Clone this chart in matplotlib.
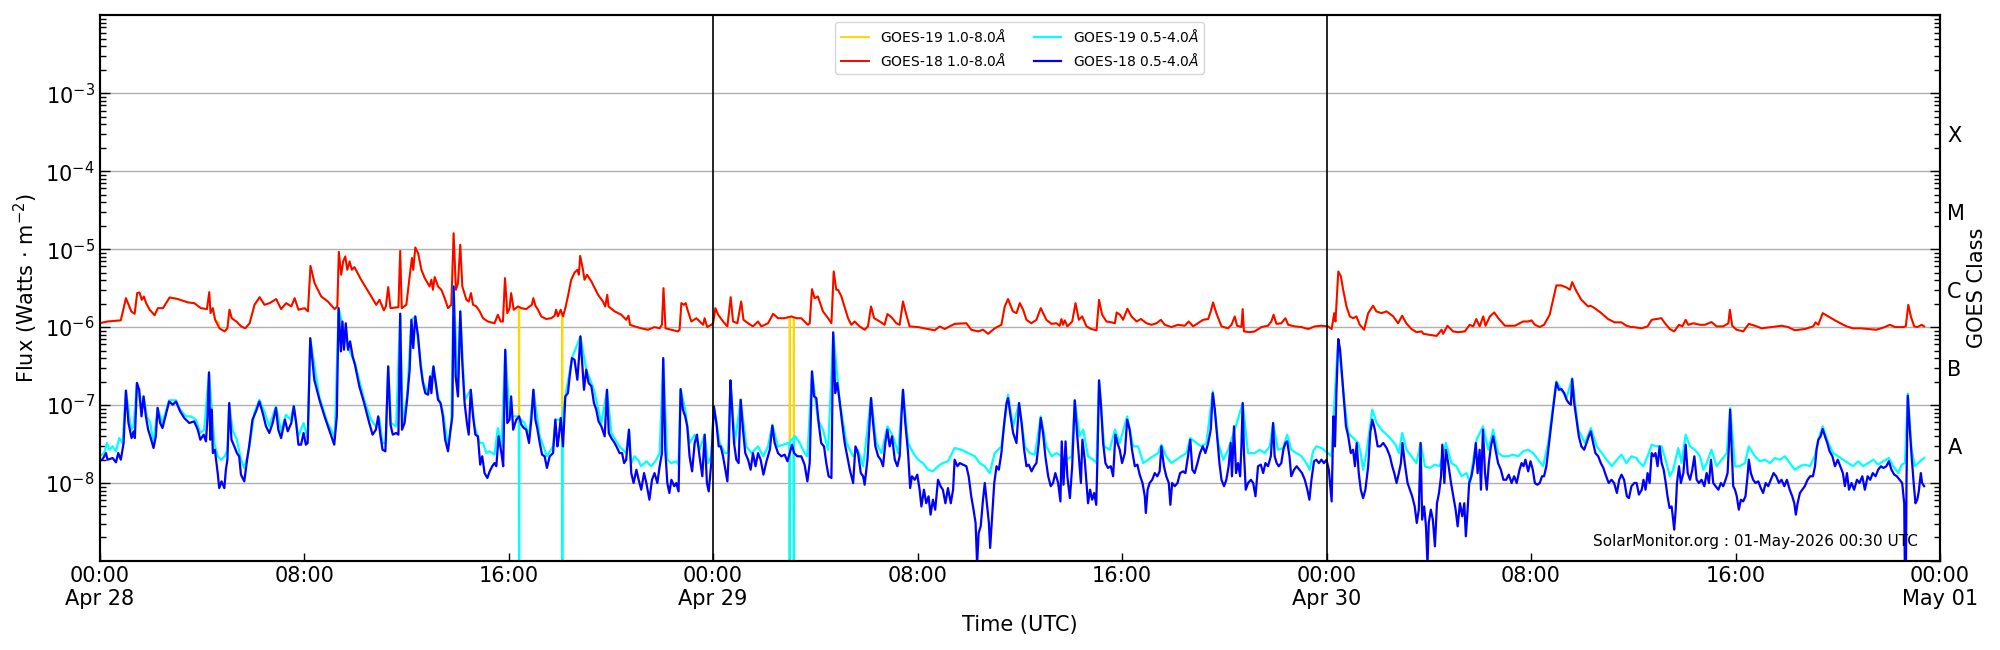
#!/usr/bin/env python3

# GOES x-ray flux for three days, SolarMonitor style

import pandas as pd
import matplotlib
matplotlib.use("Agg")
import matplotlib.pyplot as plt
import matplotlib.dates as mdates
import matplotlib.ticker as mticker

start = pd.Timestamp("2026-04-28 00:00")
span_hours = 72
day_lines = [24, 48]

# (hours since Apr 28 00:00 UTC, flux in W m^-2)
g18_long = [
	(0.0,1.12e-6),(0.31,1.18e-6),(0.83,1.22e-6),(1.03,2.35e-6),(1.24,1.59e-6),(1.37,1.48e-6),(1.47,2.73e-6),
	(1.56,2.78e-6),(1.65,2.24e-6),(1.73,2.47e-6),(1.82,2.03e-6),(1.96,1.67e-6),(2.15,1.42e-6),(2.28,1.75e-6),
	(2.48,1.75e-6),(2.74,2.40e-6),(3.06,2.29e-6),(3.46,2.07e-6),(3.70,2.03e-6),(3.96,1.75e-6),(4.20,1.70e-6),
	(4.29,2.81e-6),(4.34,1.51e-6),(4.43,1.75e-6),(4.52,1.24e-6),(4.69,9.65e-7),(4.89,8.8e-7),(5.00,9.65e-7),
	(5.08,1.67e-6),(5.17,1.30e-6),(5.35,1.18e-6),(5.54,1.02e-6),(5.70,9.65e-7),(5.87,1.12e-6),(6.06,1.93e-6),
	(6.26,2.42e-6),(6.45,1.93e-6),(6.65,2.03e-6),(6.91,2.29e-6),(7.10,1.70e-6),(7.30,2.03e-6),(7.50,1.84e-6),
	(7.63,2.35e-6),(7.78,1.67e-6),(8.02,1.75e-6),(8.15,1.59e-6),(8.25,6.1e-6),(8.41,3.66e-6),(8.67,2.47e-6),
	(8.93,2.13e-6),(9.19,1.70e-6),(9.30,1.84e-6),(9.36,9.25e-6),(9.45,4.69e-6),(9.53,6.95e-6),(9.61,8.06e-6),
	(9.69,5.43e-6),(9.78,6.95e-6),(9.87,5.43e-6),(9.97,5.88e-6),(10.23,4.05e-6),(10.63,2.47e-6),(10.82,1.93e-6),
	(10.95,2.24e-6),(11.12,1.64e-6),(11.20,1.84e-6),(11.29,3.26e-6),(11.38,1.75e-6),(11.69,1.80e-6),(11.76,9.5e-6),
	(11.82,1.75e-6),(12.00,1.93e-6),(12.13,4.47e-6),(12.22,7.7e-6),(12.27,5.43e-6),(12.35,1.05e-5),(12.46,8.9e-6),
	(12.59,5.43e-6),(12.72,4.25e-6),(12.91,3.32e-6),(12.98,4.05e-6),(13.04,3.01e-6),(13.11,4.38e-6),(13.24,3.32e-6),
	(13.37,3.01e-6),(13.50,2.35e-6),(13.63,1.75e-6),(13.76,1.93e-6),(13.85,1.60e-5),(13.94,3.01e-6),(14.02,3.66e-6),
	(14.11,1.14e-5),(14.19,3.32e-6),(14.35,2.24e-6),(14.44,2.13e-6),(14.53,2.73e-6),(14.61,1.93e-6),(14.74,1.84e-6),
	(14.87,1.59e-6),(15.00,1.30e-6),(15.19,1.18e-6),(15.45,1.12e-6),(15.58,1.44e-6),(15.69,1.18e-6),(15.78,1.18e-6),
	(15.86,4.25e-6),(15.95,1.51e-6),(16.04,1.75e-6),(16.10,2.73e-6),(16.20,1.67e-6),(16.37,1.84e-6),(16.50,1.75e-6),
	(16.69,1.70e-6),(16.82,1.84e-6),(16.91,1.93e-6),(16.97,2.35e-6),(17.05,1.88e-6),(17.15,1.67e-6),(17.28,1.37e-6),
	(17.47,1.27e-6),(17.67,1.30e-6),(17.80,1.40e-6),(17.86,1.67e-6),(17.93,1.37e-6),(18.04,1.67e-6),(18.13,1.37e-6),
	(18.22,1.75e-6),(18.32,2.47e-6),(18.45,4.05e-6),(18.58,5.0e-6),(18.69,5.43e-6),(18.75,4.69e-6),(18.80,8.2e-6),
	(18.91,5.43e-6),(18.97,4.05e-6),(19.07,4.69e-6),(19.24,3.85e-6),(19.50,2.6e-6),(19.69,2.13e-6),(19.78,1.84e-6),
	(19.86,2.6e-6),(19.91,1.84e-6),(20.15,1.59e-6),(20.41,1.44e-6),(20.60,1.24e-6),(20.69,1.40e-6),(20.75,1.07e-6),
	(20.93,1.02e-6),(21.19,9.65e-7),(21.45,9.25e-7),(21.71,1.0e-6),(21.91,9.65e-7),(22.00,1.07e-6),(22.06,3.16e-6),
	(22.14,9.65e-7),(22.36,9.25e-7),(22.62,8.8e-7),(22.69,9.25e-7),(22.76,2.03e-6),(22.86,1.93e-6),(22.93,2.03e-6),
	(23.00,1.67e-6),(23.15,1.18e-6),(23.35,1.30e-6),(23.48,1.18e-6),(23.61,1.07e-6),(23.67,1.30e-6),(23.77,1.0e-6),
	(23.93,1.07e-6),(24.00,1.12e-6),(24.09,1.75e-6),(24.20,1.44e-6),(24.39,1.18e-6),(24.56,1.02e-6),(24.69,2.42e-6),
	(24.78,1.18e-6),(24.95,1.12e-6),(25.10,2.13e-6),(25.19,1.24e-6),(25.37,1.12e-6),(25.56,1.02e-6),(25.76,1.18e-6),
	(25.89,1.02e-6),(26.15,1.12e-6),(26.35,1.48e-6),(26.54,1.30e-6),(26.80,1.30e-6),(27.06,1.37e-6),(27.26,1.30e-6),
	(27.45,1.30e-6),(27.71,1.07e-6),(27.78,1.12e-6),(27.87,3.07e-6),(27.97,2.35e-6),(28.10,2.47e-6),(28.30,1.59e-6),
	(28.50,1.30e-6),(28.63,1.12e-6),(28.72,5.17e-6),(28.82,3.01e-6),(28.89,3.01e-6),(29.02,2.47e-6),(29.28,1.30e-6),
	(29.41,1.07e-6),(29.54,1.18e-6),(29.73,1.02e-6),(29.93,9.25e-7),(30.06,1.02e-6),(30.18,1.84e-6),(30.30,1.30e-6),
	(30.52,1.18e-6),(30.71,1.07e-6),(30.82,1.47e-6),(30.98,1.34e-6),(31.17,1.12e-6),(31.30,1.07e-6),(31.43,2.13e-6),
	(31.56,1.44e-6),(31.69,1.02e-6),(32.02,1.0e-6),(32.41,9.45e-7),(32.67,9.1e-7),(32.87,1.02e-6),(33.06,9.45e-7),
	(33.45,1.10e-6),(33.91,1.12e-6),(34.10,9.25e-7),(34.37,8.8e-7),(34.56,9.25e-7),(34.76,8.2e-7),(35.02,9.65e-7),
	(35.28,1.07e-6),(35.41,1.84e-6),(35.54,2.29e-6),(35.73,1.59e-6),(35.87,1.51e-6),(36.00,2.03e-6),(36.13,1.67e-6),
	(36.26,1.24e-6),(36.45,1.12e-6),(36.65,1.24e-6),(36.82,1.75e-6),(37.04,1.24e-6),(37.24,1.10e-6),(37.43,1.12e-6),
	(37.56,1.04e-6),(37.63,1.27e-6),(37.69,1.07e-6),(37.76,1.22e-6),(37.86,1.02e-6),(38.05,1.18e-6),(38.18,2.03e-6),
	(38.31,1.24e-6),(38.44,1.37e-6),(38.61,1.02e-6),(38.80,9.45e-7),(39.00,9.1e-7),(39.10,2.24e-6),(39.22,1.44e-6),
	(39.39,1.18e-6),(39.59,1.15e-6),(39.72,1.12e-6),(39.79,1.54e-6),(39.92,1.44e-6),(40.04,1.24e-6),(40.21,1.72e-6),
	(40.37,1.37e-6),(40.57,1.18e-6),(40.74,1.27e-6),(40.96,1.12e-6),(41.15,1.07e-6),(41.35,1.12e-6),(41.52,1.24e-6),
	(41.67,1.07e-6),(41.93,1.0e-6),(42.19,1.07e-6),(42.45,1.04e-6),(42.61,1.18e-6),(42.78,1.02e-6),(42.97,1.12e-6),
	(43.17,1.24e-6),(43.37,1.27e-6),(43.47,1.59e-6),(43.56,2.07e-6),(43.69,1.51e-6),(43.89,1.02e-6),(44.15,9.65e-7),
	(44.28,1.07e-6),(44.41,1.37e-6),(44.50,1.04e-6),(44.67,1.0e-6),(44.72,1.70e-6),(44.77,8.8e-7),(44.99,8.6e-7),
	(45.19,8.8e-7),(45.45,1.0e-6),(45.71,1.04e-6),(45.84,1.18e-6),(45.93,1.44e-6),(46.04,1.10e-6),(46.23,1.12e-6),
	(46.39,1.30e-6),(46.50,1.07e-6),(46.76,1.02e-6),(47.02,1.0e-6),(47.28,9.45e-7),(47.54,1.02e-6),(47.80,1.04e-6),
	(48.06,1.02e-6),(48.20,9.45e-7),(48.30,1.51e-6),(48.35,1.18e-6),(48.46,5.17e-6),(48.56,4.47e-6),(48.65,3.01e-6),
	(48.78,1.84e-6),(48.91,1.37e-6),(49.04,1.30e-6),(49.17,1.37e-6),(49.30,1.07e-6),(49.47,9.25e-7),(49.63,1.51e-6),
	(49.82,1.88e-6),(49.95,1.59e-6),(50.15,1.51e-6),(50.35,1.59e-6),(50.61,1.37e-6),(50.80,1.12e-6),(50.96,1.40e-6),
	(51.12,1.12e-6),(51.32,9.45e-7),(51.52,8.6e-7),(51.72,8.8e-7),(51.79,8.2e-7),(51.98,8.0e-7),(52.31,7.7e-7),
	(52.50,9.25e-7),(52.56,8.2e-7),(52.73,1.04e-6),(52.95,8.8e-7),(53.15,8.6e-7),(53.41,8.8e-7),(53.60,1.07e-6),
	(53.74,1.02e-6),(53.86,1.27e-6),(53.99,1.02e-6),(54.13,1.37e-6),(54.22,1.04e-6),(54.39,1.37e-6),(54.56,1.54e-6),
	(54.72,1.30e-6),(54.98,1.04e-6),(55.37,1.04e-6),(55.69,1.18e-6),(55.89,1.18e-6),(56.02,1.22e-6),(56.15,1.07e-6),
	(56.34,1.0e-6),(56.51,1.07e-6),(56.73,1.44e-6),(56.89,2.47e-6),(56.99,3.42e-6),(57.19,3.42e-6),(57.39,3.22e-6),
	(57.52,3.01e-6),(57.61,3.77e-6),(57.78,2.87e-6),(57.97,2.24e-6),(58.23,1.84e-6),(58.33,1.88e-6),(58.49,1.75e-6),
	(58.75,1.51e-6),(59.01,1.27e-6),(59.27,1.15e-6),(59.54,1.15e-6),(59.73,1.04e-6),(59.92,1.0e-6),(60.00,1.0e-6),
	(60.33,9.65e-7),(60.56,1.02e-6),(60.72,1.24e-6),(60.91,1.27e-6),(61.10,1.30e-6),(61.24,1.12e-6),(61.43,9.45e-7),
	(61.60,8.8e-7),(61.79,1.07e-6),(61.92,1.02e-6),(62.05,1.24e-6),(62.15,1.07e-6),(62.35,1.12e-6),(62.61,1.07e-6),
	(62.80,1.07e-6),(63.06,1.16e-6),(63.26,1.02e-6),(63.52,1.02e-6),(63.72,1.12e-6),(63.78,1.67e-6),(63.87,1.04e-6),
	(64.04,9.25e-7),(64.30,8.8e-7),(64.52,1.10e-6),(64.76,1.04e-6),(65.02,9.65e-7),(65.41,1.0e-6),(65.80,1.04e-6),
	(66.06,1.0e-6),(66.32,9.1e-7),(66.71,9.45e-7),(67.04,1.02e-6),(67.13,1.15e-6),(67.24,1.07e-6),(67.41,1.51e-6),
	(67.63,1.37e-6),(67.89,1.22e-6),(68.15,1.10e-6),(68.34,1.02e-6),(68.60,9.65e-7),(68.93,9.65e-7),(69.19,9.45e-7),
	(69.51,9.25e-7),(69.84,1.0e-6),(70.04,1.07e-6),(70.24,1.0e-6),(70.56,1.0e-6),(70.66,1.02e-6),(70.76,1.93e-6),
	(70.86,1.37e-6),(70.99,1.02e-6),(71.12,1.0e-6),(71.28,1.07e-6),(71.38,1.02e-6),
]

# GOES-19 long channel sits under GOES-18; only these points differ (dropouts)
g19_long_extra = [
	(4.66,1.15e-6),
	(16.40,1.80e-6),(16.41,1e-10),(16.42,1.80e-6),
	(18.09,1.40e-6),(18.10,1e-10),(18.11,1.40e-6),
	(26.99,1.35e-6),(27.00,1e-10),(27.01,1.35e-6),
	(27.15,1.33e-6),(27.16,1e-10),(27.17,1.33e-6),
]

g18_short = [
	(0.0,1.90e-8),(0.12,2.03e-8),(0.25,2.42e-8),(0.31,1.99e-8),(0.51,2.09e-8),(0.64,1.84e-8),(0.73,2.42e-8),
	(0.83,1.99e-8),(0.94,3.26e-8),(1.03,1.53e-7),(1.13,5.88e-8),(1.25,3.77e-8),(1.33,4.60e-8),(1.38,3.77e-8),
	(1.46,1.92e-7),(1.55,1.57e-7),(1.64,7.16e-8),(1.72,1.29e-7),(1.81,7.16e-8),(1.90,4.83e-8),(2.00,3.77e-8),
	(2.11,2.81e-8),(2.20,3.97e-8),(2.27,9.17e-8),(2.37,5.88e-8),(2.46,5.07e-8),(2.59,7.52e-8),(2.72,1.11e-7),
	(2.86,1.01e-7),(2.99,1.11e-7),(3.15,8.31e-8),(3.31,6.82e-8),(3.51,5.88e-8),(3.70,6.18e-8),(3.84,4.83e-8),
	(3.94,3.59e-8),(4.07,4.17e-8),(4.16,3.42e-8),(4.22,6.82e-8),(4.28,2.62e-7),(4.33,3.59e-8),(4.38,8.73e-8),
	(4.43,2.42e-8),(4.51,2.67e-8),(4.62,1.34e-8),(4.68,8.6e-9),(4.77,1.05e-8),(4.88,8.6e-9),(4.94,1.48e-8),
	(5.00,1.99e-8),(5.07,1.06e-7),(5.16,3.59e-8),(5.27,2.95e-8),(5.37,2.42e-8),(5.46,2.20e-8),(5.53,1.28e-8),
	(5.66,1.05e-8),(5.77,1.99e-8),(5.85,2.95e-8),(5.98,6.49e-8),(6.12,8.31e-8),(6.25,1.11e-7),(6.38,7.91e-8),
	(6.51,5.33e-8),(6.64,4.38e-8),(6.77,5.88e-8),(6.90,9.17e-8),(6.99,4.83e-8),(7.10,3.77e-8),(7.25,6.49e-8),
	(7.36,4.60e-8),(7.50,5.88e-8),(7.60,9.63e-8),(7.69,5.88e-8),(7.78,3.10e-8),(7.88,3.10e-8),(7.98,4.38e-8),
	(8.07,3.10e-8),(8.14,3.26e-8),(8.24,7.2e-7),(8.40,2.11e-7),(8.60,1.17e-7),(8.80,7.16e-8),(8.98,4.83e-8),
	(9.12,3.59e-8),(9.18,3.10e-8),(9.28,7.16e-8),(9.35,1.75e-6),(9.44,4.88e-7),(9.50,1.18e-6),(9.56,5.12e-7),
	(9.63,1.12e-6),(9.72,5.12e-7),(9.80,6.55e-7),(9.90,4.21e-7),(9.99,3.29e-7),(10.16,1.74e-7),(10.35,1.06e-7),
	(10.55,5.88e-8),(10.68,4.17e-8),(10.81,4.83e-8),(10.90,7.16e-8),(10.98,4.17e-8),(11.07,2.67e-8),(11.18,2.55e-8),
	(11.29,3.13e-7),(11.38,5.60e-8),(11.47,4.17e-8),(11.60,4.38e-8),(11.69,4.17e-8),(11.76,1.48e-6),(11.83,4.83e-8),
	(11.93,5.88e-8),(12.03,1.17e-7),(12.13,2.84e-7),(12.20,1.24e-6),(12.27,5.38e-7),(12.35,1.37e-6),(12.46,7.6e-7),
	(12.56,3.13e-7),(12.65,1.92e-7),(12.74,1.42e-7),(12.85,1.36e-7),(12.93,2.33e-7),(12.98,1.42e-7),(13.06,3.13e-7),
	(13.15,1.92e-7),(13.24,1.17e-7),(13.34,1.06e-7),(13.43,7.16e-8),(13.52,3.59e-8),(13.63,2.55e-8),(13.73,4.83e-8),
	(13.80,7.16e-8),(13.85,3.32e-6),(13.93,2.33e-7),(14.02,1.29e-7),(14.11,1.59e-6),(14.19,3.45e-7),(14.28,1.06e-7),
	(14.37,5.88e-8),(14.44,4.17e-8),(14.52,1.57e-7),(14.61,7.16e-8),(14.70,4.17e-8),(14.80,3.97e-8),(14.89,1.72e-8),
	(14.97,2.20e-8),(15.06,1.34e-8),(15.17,1.16e-8),(15.26,1.41e-8),(15.36,1.64e-8),(15.45,1.80e-8),(15.52,1.64e-8),
	(15.61,3.97e-8),(15.72,2.42e-8),(15.79,1.64e-8),(15.87,5.12e-7),(15.95,5.88e-8),(16.04,6.49e-8),(16.10,1.29e-7),
	(16.18,4.83e-8),(16.30,6.49e-8),(16.41,7.16e-8),(16.50,5.60e-8),(16.60,5.07e-8),(16.69,4.83e-8),(16.80,3.26e-8),
	(16.89,6.49e-8),(16.97,1.57e-7),(17.05,6.49e-8),(17.12,5.07e-8),(17.22,3.26e-8),(17.31,2.31e-8),(17.41,2.20e-8),
	(17.50,1.56e-8),(17.61,2.20e-8),(17.74,2.42e-8),(17.83,6.49e-8),(17.91,2.95e-8),(17.96,3.77e-8),(18.04,6.82e-8),
	(18.13,2.95e-8),(18.22,1.29e-7),(18.32,1.42e-7),(18.39,2.33e-7),(18.48,4.0e-7),(18.58,3.81e-7),(18.69,2.11e-7),
	(18.75,3.81e-7),(18.81,7.6e-7),(18.88,3.45e-7),(18.95,1.57e-7),(19.04,2.84e-7),(19.13,1.92e-7),(19.24,1.74e-7),
	(19.34,1.06e-7),(19.43,8.73e-8),(19.52,6.18e-8),(19.63,5.33e-8),(19.76,3.97e-8),(19.85,1.57e-7),(19.92,4.38e-8),
	(20.02,3.77e-8),(20.15,3.26e-8),(20.25,2.81e-8),(20.34,2.42e-8),(20.44,2.42e-8),(20.52,1.80e-8),(20.60,1.99e-8),
	(20.71,4.83e-8),(20.80,1.34e-8),(20.89,1.0e-8),(21.00,1.48e-8),(21.09,1.10e-8),(21.19,8.2e-9),(21.30,1.34e-8),
	(21.39,1.0e-8),(21.51,6.1e-9),(21.61,1.10e-8),(21.71,1.34e-8),(21.82,1.0e-8),(21.91,1.64e-8),(22.00,2.42e-8),
	(22.05,4.0e-7),(22.13,2.67e-8),(22.21,1.0e-8),(22.29,7.45e-9),(22.37,1.10e-8),(22.48,9.1e-9),(22.56,1.0e-8),
	(22.65,7.8e-9),(22.73,1.60e-7),(22.82,8.73e-8),(22.91,7.16e-8),(22.99,5.33e-8),(23.08,2.20e-8),(23.18,1.41e-8),
	(23.28,3.26e-8),(23.37,4.17e-8),(23.47,2.20e-8),(23.58,1.22e-8),(23.67,4.17e-8),(23.76,1.0e-8),(23.83,7.8e-9),
	(23.93,1.80e-8),(24.03,9.63e-8),(24.13,5.88e-8),(24.22,2.95e-8),(24.30,2.95e-8),(24.39,2.20e-8),(24.48,1.48e-8),
	(24.56,1.05e-8),(24.61,2.20e-8),(24.68,2.07e-7),(24.74,9.63e-8),(24.82,3.26e-8),(24.91,1.99e-8),(25.00,1.80e-8),
	(25.08,1.17e-7),(25.17,4.83e-8),(25.26,2.42e-8),(25.37,1.99e-8),(25.47,1.48e-8),(25.56,2.42e-8),(25.66,1.64e-8),
	(25.76,2.42e-8),(25.86,1.99e-8),(25.97,1.28e-8),(26.09,1.90e-8),(26.22,2.67e-8),(26.32,5.43e-8),(26.41,3.26e-8),
	(26.54,2.42e-8),(26.67,2.20e-8),(26.80,2.31e-8),(26.91,1.90e-8),(27.00,2.42e-8),(27.09,3.10e-8),(27.17,2.42e-8),
	(27.30,2.20e-8),(27.45,2.20e-8),(27.58,1.72e-8),(27.69,1.05e-8),(27.78,1.80e-8),(27.87,2.70e-7),(27.95,1.29e-7),
	(28.04,1.23e-7),(28.13,5.88e-8),(28.23,3.26e-8),(28.34,2.95e-8),(28.43,1.80e-8),(28.52,1.22e-8),(28.63,1.16e-8),
	(28.70,8.55e-7),(28.78,1.42e-7),(28.86,1.92e-7),(28.96,1.06e-7),(29.05,5.88e-8),(29.15,3.26e-8),(29.25,2.20e-8),
	(29.35,1.48e-8),(29.48,1.0e-8),(29.57,2.95e-8),(29.67,2.42e-8),(29.78,1.34e-8),(29.87,1.22e-8),(29.93,9.5e-9),
	(30.04,1.99e-8),(30.11,4.83e-8),(30.18,1.23e-7),(30.26,5.88e-8),(30.35,2.95e-8),(30.46,2.20e-8),(30.56,1.99e-8),
	(30.65,1.64e-8),(30.74,3.26e-8),(30.82,4.83e-8),(30.91,2.95e-8),(31.00,3.97e-8),(31.11,1.99e-8),(31.21,1.64e-8),
	(31.30,2.20e-8),(31.37,7.16e-8),(31.43,1.57e-7),(31.52,5.88e-8),(31.63,2.42e-8),(31.71,8.6e-9),(31.78,1.22e-8),
	(31.89,1.10e-8),(31.99,1.28e-8),(32.08,8.2e-9),(32.15,5.0e-9),(32.25,8.2e-9),(32.34,5.5e-9),(32.43,6.75e-9),
	(32.51,3.93e-9),(32.60,6.1e-9),(32.69,4.55e-9),(32.80,1.10e-8),(32.90,9.1e-9),(32.99,8.2e-9),(33.09,5.5e-9),
	(33.19,8.6e-9),(33.30,5.5e-9),(33.39,8.2e-9),(33.45,1.99e-8),(33.56,1.64e-8),(33.65,1.80e-8),(33.78,1.72e-8),
	(33.91,1.64e-8),(34.00,1.22e-8),(34.10,6.75e-9),(34.19,4.55e-9),(34.27,3.07e-9),(34.33,9e-10),(34.39,2.29e-9),
	(34.47,2.78e-9),(34.56,6.1e-9),(34.63,1.0e-8),(34.71,5.5e-9),(34.79,3.07e-9),(34.84,1.47e-9),(34.92,3.74e-9),
	(35.00,1.0e-8),(35.09,1.64e-8),(35.18,1.48e-8),(35.28,2.42e-8),(35.39,5.88e-8),(35.48,1.06e-7),(35.54,1.23e-7),
	(35.64,7.16e-8),(35.74,4.38e-8),(35.87,3.26e-8),(35.97,1.06e-7),(36.07,5.88e-8),(36.17,2.67e-8),(36.26,1.64e-8),
	(36.35,1.72e-8),(36.46,1.41e-8),(36.56,1.64e-8),(36.65,1.80e-8),(36.74,3.26e-8),(36.82,6.82e-8),(36.91,4.38e-8),
	(37.00,2.20e-8),(37.11,1.22e-8),(37.21,9.1e-9),(37.30,1.0e-8),(37.39,1.34e-8),(37.50,1.0e-8),(37.59,5.8e-9),
	(37.64,3.42e-8),(37.71,9.5e-9),(37.79,3.42e-8),(37.86,1.22e-8),(37.96,6.4e-9),(38.05,1.64e-8),(38.15,1.15e-7),
	(38.23,4.83e-8),(38.31,2.20e-8),(38.39,1.0e-8),(38.45,3.59e-8),(38.54,1.99e-8),(38.61,1.0e-8),(38.67,5.5e-9),
	(38.75,8.2e-9),(38.83,6.1e-9),(38.91,7.45e-9),(38.99,5.25e-9),(39.04,2.20e-8),(39.10,2.07e-7),(39.17,1.06e-7),
	(39.26,3.26e-8),(39.35,1.80e-8),(39.45,1.56e-8),(39.56,1.64e-8),(39.65,1.22e-8),(39.74,4.17e-8),(39.82,3.26e-8),
	(39.91,2.67e-8),(40.00,1.80e-8),(40.11,2.42e-8),(40.20,6.49e-8),(40.30,4.83e-8),(40.39,2.67e-8),(40.50,1.64e-8),
	(40.60,1.72e-8),(40.69,1.28e-8),(40.80,1.0e-8),(40.89,6.75e-9),(40.93,4.13e-9),(41.00,8.2e-9),(41.08,1.0e-8),
	(41.18,1.10e-8),(41.28,1.34e-8),(41.38,1.22e-8),(41.47,1.41e-8),(41.54,2.95e-8),(41.64,1.64e-8),(41.73,1.22e-8),
	(41.83,1.0e-8),(41.89,5.25e-9),(41.96,1.0e-8),(42.06,9.1e-9),(42.17,1.0e-8),(42.27,1.34e-8),(42.39,1.41e-8),
	(42.48,1.34e-8),(42.58,2.20e-8),(42.67,3.59e-8),(42.75,1.48e-8),(42.84,1.34e-8),(42.95,1.80e-8),(43.05,2.42e-8),
	(43.16,2.95e-8),(43.26,2.42e-8),(43.37,3.26e-8),(43.47,4.83e-8),(43.55,1.42e-7),(43.63,8.73e-8),(43.72,3.97e-8),
	(43.81,1.80e-8),(43.89,1.10e-8),(43.99,9.1e-9),(44.08,1.10e-8),(44.17,1.64e-8),(44.25,3.26e-8),(44.30,1.22e-8),
	(44.38,5.33e-8),(44.46,1.34e-8),(44.54,1.80e-8),(44.62,1.22e-8),(44.67,2.95e-8),(44.72,1.06e-7),(44.77,2.42e-8),
	(44.84,8.2e-9),(44.93,1.0e-8),(45.04,1.10e-8),(45.13,1.0e-8),(45.22,6.75e-9),(45.32,1.64e-8),(45.43,1.72e-8),
	(45.52,1.34e-8),(45.61,1.80e-8),(45.71,1.64e-8),(45.82,2.20e-8),(45.91,5.88e-8),(45.97,2.20e-8),(46.05,1.80e-8),
	(46.13,1.64e-8),(46.23,1.80e-8),(46.31,2.67e-8),(46.39,3.26e-8),(46.46,3.42e-8),(46.55,2.20e-8),(46.62,1.22e-8),
	(46.73,1.48e-8),(46.83,1.64e-8),(46.94,1.48e-8),(47.04,1.34e-8),(47.15,1.10e-8),(47.25,8.2e-9),(47.33,6.1e-9),
	(47.41,1.10e-8),(47.51,1.90e-8),(47.60,1.99e-8),(47.70,1.80e-8),(47.80,1.99e-8),(47.90,1.80e-8),(48.00,1.99e-8),
	(48.09,1.48e-8),(48.20,5.8e-9),(48.27,7.16e-8),(48.33,2.95e-8),(48.39,1.57e-7),(48.46,7.0e-7),(48.53,5.12e-7),
	(48.61,2.33e-7),(48.69,1.06e-7),(48.76,5.33e-8),(48.85,3.97e-8),(48.95,2.42e-8),(49.04,2.67e-8),(49.11,1.64e-8),
	(49.18,3.26e-8),(49.26,1.34e-8),(49.34,8.2e-9),(49.43,6.4e-9),(49.52,8.2e-9),(49.63,1.64e-8),(49.71,4.38e-8),
	(49.79,6.49e-8),(49.89,4.83e-8),(50.00,2.95e-8),(50.10,2.95e-8),(50.22,3.26e-8),(50.35,2.81e-8),(50.48,2.20e-8),
	(50.57,1.64e-8),(50.65,1.34e-8),(50.74,1.0e-8),(50.83,1.34e-8),(50.91,1.80e-8),(50.97,3.26e-8),(51.06,1.80e-8),
	(51.17,1.0e-8),(51.26,8.2e-9),(51.35,6.75e-9),(51.45,5.0e-9),(51.53,3.07e-9),(51.61,4.55e-9),(51.68,3.26e-8),
	(51.74,3.39e-9),(51.82,5.0e-9),(51.89,2.78e-9),(51.95,9e-10),(52.00,3.07e-9),(52.08,4.55e-9),(52.16,3.39e-9),
	(52.24,1.54e-9),(52.32,5.5e-9),(52.40,7.45e-9),(52.48,1.22e-8),(52.53,3.10e-8),(52.61,1.0e-8),(52.67,2.67e-8),
	(52.76,1.80e-8),(52.87,1.0e-8),(52.96,6.75e-9),(53.05,4.55e-9),(53.13,2.78e-9),(53.22,5.5e-9),(53.31,3.74e-9),
	(53.39,5.5e-9),(53.45,2.07e-9),(53.52,4.55e-9),(53.58,1.0e-8),(53.67,1.22e-8),(53.76,1.80e-8),(53.84,3.26e-8),
	(53.91,1.34e-8),(53.99,2.67e-8),(54.04,8.2e-9),(54.12,4.83e-8),(54.20,1.34e-8),(54.27,8.2e-9),(54.35,1.80e-8),
	(54.43,2.95e-8),(54.52,3.97e-8),(54.61,2.67e-8),(54.71,1.80e-8),(54.82,1.48e-8),(54.92,1.10e-8),(55.03,1.10e-8),
	(55.13,1.28e-8),(55.24,1.0e-8),(55.34,1.22e-8),(55.44,1.0e-8),(55.55,1.48e-8),(55.63,1.80e-8),(55.71,1.64e-8),
	(55.78,1.99e-8),(55.89,1.41e-8),(55.98,1.90e-8),(56.07,1.48e-8),(56.15,1.0e-8),(56.25,9.5e-9),(56.34,1.0e-8),
	(56.43,1.22e-8),(56.51,1.22e-8),(56.60,1.64e-8),(56.69,2.95e-8),(56.80,5.88e-8),(56.89,1.06e-7),(56.99,1.95e-7),
	(57.09,1.57e-7),(57.19,1.60e-7),(57.30,1.42e-7),(57.39,1.17e-7),(57.48,1.06e-7),(57.56,1.01e-7),(57.61,2.15e-7),
	(57.69,1.06e-7),(57.78,6.49e-8),(57.87,3.97e-8),(57.97,2.95e-8),(58.08,2.67e-8),(58.17,3.26e-8),(58.26,3.97e-8),
	(58.34,4.60e-8),(58.43,3.26e-8),(58.52,2.42e-8),(58.63,2.20e-8),(58.73,1.80e-8),(58.83,1.56e-8),(58.94,1.22e-8),
	(59.04,1.0e-8),(59.15,1.10e-8),(59.25,1.0e-8),(59.36,7.45e-9),(59.45,1.10e-8),(59.54,1.28e-8),(59.64,1.10e-8),
	(59.75,6.75e-9),(59.83,6.4e-9),(59.93,9.1e-9),(60.04,1.0e-8),(60.13,1.0e-8),(60.22,7.1e-9),(60.33,8.2e-9),
	(60.40,1.10e-8),(60.48,8.2e-9),(60.56,1.34e-8),(60.64,1.0e-8),(60.72,2.42e-8),(60.80,2.20e-8),(60.87,2.42e-8),
	(60.95,1.64e-8),(61.03,2.95e-8),(61.11,1.80e-8),(61.19,1.48e-8),(61.27,1.0e-8),(61.34,6.75e-9),(61.42,4.78e-9),
	(61.50,5.0e-9),(61.56,3.39e-9),(61.60,2.52e-9),(61.66,4.55e-9),(61.71,1.0e-8),(61.79,1.64e-8),(61.86,1.0e-8),
	(61.96,1.34e-8),(62.05,3.10e-8),(62.13,1.34e-8),(62.22,1.10e-8),(62.31,1.48e-8),(62.39,2.20e-8),(62.48,1.10e-8),
	(62.57,1.0e-8),(62.67,1.10e-8),(62.78,9.1e-9),(62.87,1.34e-8),(62.96,1.0e-8),(63.04,1.99e-8),(63.13,1.0e-8),
	(63.22,9.1e-9),(63.33,8.2e-9),(63.43,1.0e-8),(63.52,9.1e-9),(63.61,1.10e-8),(63.69,1.34e-8),(63.74,2.95e-8),
	(63.79,8.73e-8),(63.84,3.26e-8),(63.91,9.1e-9),(63.98,8.2e-9),(64.05,6.75e-9),(64.13,4.55e-9),(64.21,6.1e-9),
	(64.30,5.8e-9),(64.39,6.75e-9),(64.47,1.22e-8),(64.52,1.99e-8),(64.60,1.34e-8),(64.69,1.10e-8),(64.78,1.0e-8),
	(64.89,1.05e-8),(64.99,8.6e-9),(65.08,7.45e-9),(65.18,1.0e-8),(65.28,9.1e-9),(65.38,1.10e-8),(65.49,1.34e-8),
	(65.59,1.22e-8),(65.70,1.0e-8),(65.80,1.10e-8),(65.91,9.1e-9),(66.01,1.10e-8),(66.12,8.2e-9),(66.22,6.75e-9),
	(66.30,5.5e-9),(66.36,3.93e-9),(66.43,5.5e-9),(66.52,7.45e-9),(66.61,8.2e-9),(66.71,9.1e-9),(66.82,1.10e-8),
	(66.92,1.22e-8),(67.03,1.22e-8),(67.11,1.64e-8),(67.17,2.67e-8),(67.24,3.59e-8),(67.33,3.97e-8),(67.41,4.93e-8),
	(67.50,3.97e-8),(67.59,3.26e-8),(67.68,2.55e-8),(67.79,2.20e-8),(67.89,1.64e-8),(68.00,1.99e-8),(68.10,1.64e-8),
	(68.20,1.34e-8),(68.28,9.1e-9),(68.36,1.34e-8),(68.44,8.2e-9),(68.54,1.0e-8),(68.64,8.2e-9),(68.75,1.10e-8),
	(68.85,1.0e-8),(68.96,1.22e-8),(69.06,8.2e-9),(69.17,1.22e-8),(69.27,1.10e-8),(69.37,1.34e-8),(69.48,1.22e-8),
	(69.58,1.48e-8),(69.69,1.64e-8),(69.79,1.56e-8),(69.90,1.64e-8),(70.00,1.90e-8),(70.10,1.48e-8),(70.21,1.28e-8),
	(70.31,1.22e-8),(70.42,1.10e-8),(70.52,1.0e-8),(70.60,5.5e-9),(70.65,1e-10),(70.69,1.10e-8),(70.74,1.32e-7),
	(70.82,4.83e-8),(70.89,2.20e-8),(70.97,1.0e-8),(71.04,5.5e-9),(71.11,6.1e-9),(71.17,7.8e-9),(71.25,1.34e-8),
	(71.30,1.0e-8),(71.38,9.1e-9),
]

g19_short = [
	(0.0,2.20e-8),(0.18,2.42e-8),(0.29,3.26e-8),(0.38,2.67e-8),(0.51,2.95e-8),(0.64,2.55e-8),(0.77,3.77e-8),
	(0.90,3.26e-8),(1.03,1.53e-7),(1.23,4.83e-8),(1.33,5.33e-8),(1.46,1.92e-7),(1.64,8.31e-8),(1.72,1.29e-7),
	(1.85,7.16e-8),(1.98,5.88e-8),(2.11,3.26e-8),(2.27,9.17e-8),(2.46,5.88e-8),(2.72,1.15e-7),(2.99,1.15e-7),
	(3.15,8.73e-8),(3.38,7.16e-8),(3.57,7.16e-8),(3.77,6.49e-8),(3.94,4.38e-8),(4.09,4.83e-8),(4.28,2.62e-7),
	(4.38,9.63e-8),(4.49,3.26e-8),(4.62,2.20e-8),(4.75,1.99e-8),(4.90,2.20e-8),(5.00,2.67e-8),(5.07,1.06e-7),
	(5.20,4.83e-8),(5.37,3.59e-8),(5.53,1.99e-8),(5.66,1.56e-8),(5.79,2.20e-8),(5.92,3.97e-8),(6.05,7.91e-8),
	(6.25,1.17e-7),(6.44,8.31e-8),(6.64,5.33e-8),(6.90,9.63e-8),(7.10,4.60e-8),(7.29,7.52e-8),(7.48,6.49e-8),
	(7.59,9.8e-8),(7.77,3.97e-8),(7.98,5.88e-8),(8.14,3.77e-8),(8.24,7.2e-7),(8.59,1.29e-7),(8.92,5.88e-8),
	(9.12,4.38e-8),(9.20,3.77e-8),(9.35,1.75e-6),(9.70,5.65e-7),(9.99,3.45e-7),(10.35,1.17e-7),(10.62,6.49e-8),
	(10.81,5.33e-8),(10.94,6.82e-8),(11.07,3.26e-8),(11.20,3.26e-8),(11.29,3.13e-7),(11.40,5.88e-8),(11.60,5.33e-8),
	(11.76,1.48e-6),(11.86,5.88e-8),(12.03,1.29e-7),(12.20,1.24e-6),(12.35,1.37e-6),(12.65,2.01e-7),(12.85,1.42e-7),
	(13.06,3.13e-7),(13.24,1.29e-7),(13.43,8.31e-8),(13.63,2.95e-8),(13.76,5.88e-8),(13.85,3.32e-6),(14.02,1.42e-7),
	(14.11,1.59e-6),(14.28,1.17e-7),(14.52,1.57e-7),(14.67,5.33e-8),(14.87,3.26e-8),(15.00,3.26e-8),(15.13,2.42e-8),
	(15.26,2.55e-8),(15.45,2.31e-8),(15.58,5.07e-8),(15.72,2.95e-8),(15.87,5.12e-7),(16.04,7.16e-8),(16.30,7.16e-8),
	(16.40,7.16e-8),(16.41,1e-10),(16.42,6.82e-8),(16.63,5.88e-8),(16.80,3.97e-8),(16.97,1.57e-7),(17.22,3.97e-8),
	(17.50,2.20e-8),(17.74,2.95e-8),(17.83,6.49e-8),(18.04,6.49e-8),(18.09,5.88e-8),(18.10,1e-10),(18.11,7.16e-8),
	(18.22,1.29e-7),(18.48,4.0e-7),(18.81,7.6e-7),(19.04,2.84e-7),(19.34,1.57e-7),(19.63,5.88e-8),(19.85,1.57e-7),
	(20.02,4.38e-8),(20.34,2.95e-8),(20.60,2.42e-8),(20.71,4.83e-8),(20.80,1.80e-8),(20.93,2.20e-8),(21.06,1.99e-8),
	(21.19,1.64e-8),(21.39,1.90e-8),(21.58,1.64e-8),(21.78,1.99e-8),(21.91,2.42e-8),(22.05,4.0e-7),(22.21,1.99e-8),
	(22.36,1.80e-8),(22.56,1.90e-8),(22.65,1.72e-8),(22.73,1.60e-7),(22.91,8.73e-8),(23.08,3.26e-8),(23.28,4.17e-8),
	(23.47,2.67e-8),(23.67,4.17e-8),(23.80,1.80e-8),(23.93,2.20e-8),(24.03,9.63e-8),(24.26,3.26e-8),(24.46,2.42e-8),
	(24.59,2.42e-8),(24.68,2.07e-7),(24.85,3.26e-8),(25.08,1.17e-7),(25.30,2.95e-8),(25.50,2.42e-8),(25.76,2.95e-8),
	(25.96,2.20e-8),(26.15,2.95e-8),(26.32,5.6e-8),(26.54,2.95e-8),(26.74,3.10e-8),(26.94,3.26e-8),(26.99,3.26e-8),
	(27.00,1e-10),(27.01,3.42e-8),(27.06,3.59e-8),(27.15,3.77e-8),(27.16,1e-10),(27.17,3.97e-8),(27.22,3.97e-8),
	(27.39,3.26e-8),(27.58,2.42e-8),(27.69,2.20e-8),(27.87,2.70e-7),(28.10,6.49e-8),(28.30,4.83e-8),(28.50,2.67e-8),
	(28.70,8.55e-7),(28.96,1.06e-7),(29.22,3.26e-8),(29.48,2.20e-8),(29.67,2.67e-8),(29.87,1.64e-8),(30.18,1.23e-7),
	(30.39,3.26e-8),(30.59,2.42e-8),(30.82,5.33e-8),(31.04,3.97e-8),(31.24,2.42e-8),(31.43,1.57e-7),(31.63,3.26e-8),
	(31.83,2.42e-8),(32.02,1.99e-8),(32.21,1.80e-8),(32.41,1.48e-8),(32.60,1.41e-8),(32.80,1.64e-8),(32.99,1.80e-8),
	(33.19,1.90e-8),(33.45,2.81e-8),(33.71,2.67e-8),(33.98,2.42e-8),(34.24,2.20e-8),(34.43,1.80e-8),(34.63,1.64e-8),
	(34.82,1.34e-8),(35.02,2.42e-8),(35.28,2.95e-8),(35.54,1.36e-7),(35.74,5.33e-8),(35.97,1.06e-7),(36.20,2.95e-8),
	(36.39,2.42e-8),(36.59,2.31e-8),(36.82,7.16e-8),(37.04,2.95e-8),(37.24,2.20e-8),(37.43,2.42e-8),(37.63,2.20e-8),
	(37.83,1.99e-8),(38.03,2.20e-8),(38.15,1.15e-7),(38.34,3.97e-8),(38.48,4.83e-8),(38.67,2.20e-8),(38.87,1.99e-8),
	(39.00,1.80e-8),(39.10,2.07e-7),(39.30,2.95e-8),(39.52,2.67e-8),(39.72,4.83e-8),(39.91,3.26e-8),(40.20,7.16e-8),
	(40.43,2.95e-8),(40.63,2.95e-8),(40.83,1.80e-8),(41.02,1.99e-8),(41.21,2.20e-8),(41.41,2.42e-8),(41.54,3.10e-8),
	(41.73,2.20e-8),(41.93,1.80e-8),(42.12,1.99e-8),(42.32,2.20e-8),(42.52,2.42e-8),(42.67,3.77e-8),(42.91,3.26e-8),
	(43.11,2.95e-8),(43.30,3.26e-8),(43.55,1.50e-7),(43.76,3.26e-8),(43.96,1.99e-8),(44.15,2.67e-8),(44.41,4.83e-8),
	(44.72,1.06e-7),(44.93,2.42e-8),(45.19,2.42e-8),(45.39,2.67e-8),(45.58,2.42e-8),(45.78,2.95e-8),(45.91,5.88e-8),
	(46.10,2.67e-8),(46.30,2.81e-8),(46.46,4.17e-8),(46.62,2.67e-8),(46.82,2.42e-8),(47.02,2.20e-8),(47.21,1.80e-8),
	(47.34,1.48e-8),(47.47,2.55e-8),(47.60,2.95e-8),(47.80,2.81e-8),(48.06,2.42e-8),(48.20,2.20e-8),(48.27,7.16e-8),
	(48.46,7.0e-7),(48.69,1.17e-7),(48.85,4.38e-8),(48.98,3.97e-8),(49.11,3.59e-8),(49.24,3.26e-8),(49.34,2.42e-8),
	(49.43,1.48e-8),(49.56,2.42e-8),(49.79,8.73e-8),(49.96,5.88e-8),(50.15,4.83e-8),(50.35,4.17e-8),(50.54,3.59e-8),
	(50.70,3.10e-8),(50.83,2.42e-8),(50.96,4.38e-8),(51.13,2.67e-8),(51.32,2.20e-8),(51.52,1.80e-8),(51.68,3.26e-8),
	(51.85,1.64e-8),(52.04,1.56e-8),(52.24,1.72e-8),(52.43,1.64e-8),(52.67,3.26e-8),(52.89,1.80e-8),(53.08,1.64e-8),
	(53.28,1.22e-8),(53.48,1.34e-8),(53.61,1.0e-8),(53.74,1.99e-8),(53.87,3.59e-8),(54.12,5.33e-8),(54.33,2.67e-8),
	(54.52,4.83e-8),(54.71,2.42e-8),(54.91,2.20e-8),(55.10,2.20e-8),(55.30,2.31e-8),(55.50,2.20e-8),(55.69,2.55e-8),
	(55.89,2.67e-8),(56.08,2.42e-8),(56.28,1.99e-8),(56.47,1.64e-8),(56.67,3.26e-8),(56.99,2.01e-7),(57.39,1.23e-7),
	(57.61,2.21e-7),(57.85,4.83e-8),(58.11,3.26e-8),(58.34,5.07e-8),(58.57,2.95e-8),(58.77,2.42e-8),(58.96,1.99e-8),
	(59.16,1.64e-8),(59.36,1.99e-8),(59.54,2.31e-8),(59.73,1.80e-8),(59.93,2.20e-8),(60.13,2.09e-8),(60.20,1.90e-8),
	(60.39,1.64e-8),(60.56,2.20e-8),(60.72,3.10e-8),(60.91,2.95e-8),(61.11,2.95e-8),(61.30,1.80e-8),(61.43,1.22e-8),
	(61.56,1.48e-8),(61.76,2.81e-8),(61.89,1.80e-8),(62.05,4.17e-8),(62.22,2.95e-8),(62.41,2.67e-8),(62.61,2.20e-8),
	(62.74,1.48e-8),(62.87,1.80e-8),(63.06,2.67e-8),(63.26,1.64e-8),(63.46,1.99e-8),(63.66,2.42e-8),(63.79,9.17e-8),
	(63.98,1.64e-8),(64.17,1.64e-8),(64.37,1.80e-8),(64.52,2.95e-8),(64.76,2.20e-8),(64.95,1.90e-8),(65.15,1.99e-8),
	(65.35,1.80e-8),(65.54,2.09e-8),(65.74,1.99e-8),(65.93,2.20e-8),(66.13,1.80e-8),(66.32,1.48e-8),(66.52,1.64e-8),
	(66.71,1.72e-8),(66.91,1.64e-8),(67.10,2.20e-8),(67.24,3.59e-8),(67.41,5.33e-8),(67.63,3.26e-8),(67.82,2.42e-8),
	(68.02,2.20e-8),(68.21,1.99e-8),(68.41,1.80e-8),(68.60,1.64e-8),(68.80,1.90e-8),(68.99,1.64e-8),(69.19,1.80e-8),
	(69.39,1.99e-8),(69.58,1.72e-8),(69.78,1.90e-8),(70.00,2.09e-8),(70.17,1.64e-8),(70.37,1.34e-8),(70.50,1.72e-8),
	(70.63,1.80e-8),(70.74,1.40e-7),(70.89,2.67e-8),(71.02,1.64e-8),(71.15,1.80e-8),(71.28,1.99e-8),(71.38,2.09e-8),
]

flux_ticks = [1e-8, 1e-7, 1e-6, 1e-5, 1e-4, 1e-3]
goes_classes = [("X", -3.55), ("M", -4.55), ("C", -5.55), ("B", -6.55), ("A", -7.55)]
stamp = "SolarMonitor.org : 01-May-2026 00:30 UTC"


def to_times(pairs):
	hours = [p[0] for p in pairs]
	flux = [p[1] for p in pairs]
	return start + pd.to_timedelta(hours, unit="h"), flux


def fmt_time(x, pos=None):
	d = mdates.num2date(x)
	if d.hour == 0:
		return d.strftime("%H:%M\n%b %d")
	return d.strftime("%H:%M")


fig = plt.figure(figsize=(20, 6.5), dpi=100)
ax = fig.add_axes([0.0498, 0.137, 0.9202, 0.8395])

g19_long = sorted(g18_long + g19_long_extra)
series = [
	(g19_long, "gold", 1.4, r"GOES-19 1.0-8.0$\AA$"),
	(g18_long, "red", 1.4, r"GOES-18 1.0-8.0$\AA$"),
	(g19_short, "cyan", 1.6, r"GOES-19 0.5-4.0$\AA$"),
	(g18_short, "blue", 1.6, r"GOES-18 0.5-4.0$\AA$"),
]
for pairs, color, lw, label in series:
	t, f = to_times(pairs)
	ax.plot(t, f, color=color, lw=lw, label=label)

for h in day_lines:
	ax.axvline(start + pd.Timedelta(hours=h), color="black", lw=1.2)

ax.set_yscale("log")
ax.set_ylim(1e-9, 1e-2)
ax.set_yticks(flux_ticks)
ax.yaxis.set_minor_formatter(mticker.NullFormatter())
ax.set_xlim(start, start + pd.Timedelta(hours=span_hours))
ax.xaxis.set_major_locator(mdates.HourLocator(byhour=[0, 8, 16]))
ax.xaxis.set_major_formatter(mticker.FuncFormatter(fmt_time))

ax.yaxis.grid(True, which="major", color="#b0b0b0", lw=1.0)
ax.tick_params(axis="both", which="major", direction="in", labelsize=15, length=7, width=1)
ax.tick_params(axis="y", which="minor", direction="in", length=4.5, width=1)
ax.tick_params(axis="x", which="major", length=6)

ax.set_xlabel("Time (UTC)", fontsize=15)
ax.set_ylabel(r"Flux (Watts $\cdot$ m$^{-2}$)", fontsize=15, labelpad=4)

ax2 = ax.twinx()
ax2.set_yscale("log")
ax2.set_ylim(1e-9, 1e-2)
ax2.yaxis.set_major_formatter(mticker.NullFormatter())
ax2.yaxis.set_minor_formatter(mticker.NullFormatter())
ax2.tick_params(axis="y", which="major", direction="in", length=7, width=1)
ax2.tick_params(axis="y", which="minor", direction="in", length=4.5, width=1)
for letter, expo in goes_classes:
	ax2.text(1.004, 10 ** expo, letter, transform=ax2.get_yaxis_transform(),
		ha="left", va="center", fontsize=15)
ax2.set_ylabel("GOES Class", fontsize=15, labelpad=16)

for a in (ax, ax2):
	for s in a.spines.values():
		s.set_linewidth(1.5)

ax.legend(loc="upper center", ncol=2, fontsize=10)
ax.text(0.988, 0.021, stamp, transform=ax.transAxes, ha="right", va="bottom", fontsize=11)

fig.savefig("out.png", dpi=100)
plt.close(fig)
